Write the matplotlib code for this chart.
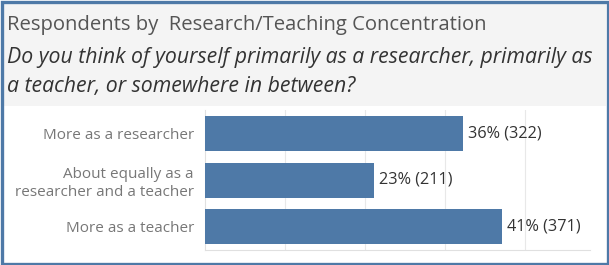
import matplotlib.pyplot as plt
from matplotlib.patches import Rectangle

# Données
categories = ["More as a researcher",
              "About equally as a\nresearcher and a teacher",
              "More as a teacher"]
counts = [322, 211, 371]
percents = [36, 23, 41]

title = "Respondents by  Research/Teaching Concentration"
subtitle_lines = ["Do you think of yourself primarily as a researcher, primarily as",
                  "a teacher, or somewhere in between?"]

W, H = 609, 265
plt.rcParams['font.family'] = ['Open Sans', 'DejaVu Sans']

fig = plt.figure(figsize=(W / 100, H / 100), dpi=100)
fig.patch.set_facecolor("white")

def fx(px):
    return px / W

def fy(py):
    return 1 - py / H

# En-tête grise
fig.patches.append(Rectangle((fx(3), fy(106)), fx(603), 103 / H,
                             transform=fig.transFigure, facecolor="#f4f4f4",
                             edgecolor="none", zorder=0))
# Cadre bleu
fig.patches.append(Rectangle((fx(1.5), fy(263.5)), fx(606), 262 / H,
                             transform=fig.transFigure, facecolor="none",
                             edgecolor="#4e79a7", linewidth=2.4, zorder=5))

fig.text(fx(7), fy(25), title, fontsize=14.6, color="#555555", va="center")
for i, line in enumerate(subtitle_lines):
    fig.text(fx(7), fy(57 + 30 * i), line, fontsize=15.3, color="#333333",
             style="italic", va="center")

# Graphique à barres
ax = fig.add_axes([fx(205), fy(250), fx(385), 140 / H])
y = list(range(len(categories)))
ax.barh(y, counts, height=0.75, color="#4e79a7", zorder=3)
for yi, c, p in zip(y, counts, percents):
    ax.text(c + 6, yi, f"{p}% ({c})", va="center", ha="left",
            fontsize=11.7, color="#333333")

ax.set_xlim(0, 481)
ax.set_ylim(2.5, -0.5)
ax.set_yticks(y)
ax.set_yticklabels(categories, fontsize=11, color="#777777", linespacing=1.25)
ax.set_xticks([100, 200, 300, 400])
ax.tick_params(axis="x", length=0, labelbottom=False)
ax.tick_params(axis="y", length=0, pad=8)
ax.grid(axis="x", color="#e8e8e8", linewidth=0.8, zorder=0)
for s in ["top", "right"]:
    ax.spines[s].set_visible(False)
ax.spines["left"].set_color("#e0e0e0")
ax.spines["bottom"].set_color("#e0e0e0")
ax.set_facecolor("none")

fig.savefig("out.png", dpi=100)
